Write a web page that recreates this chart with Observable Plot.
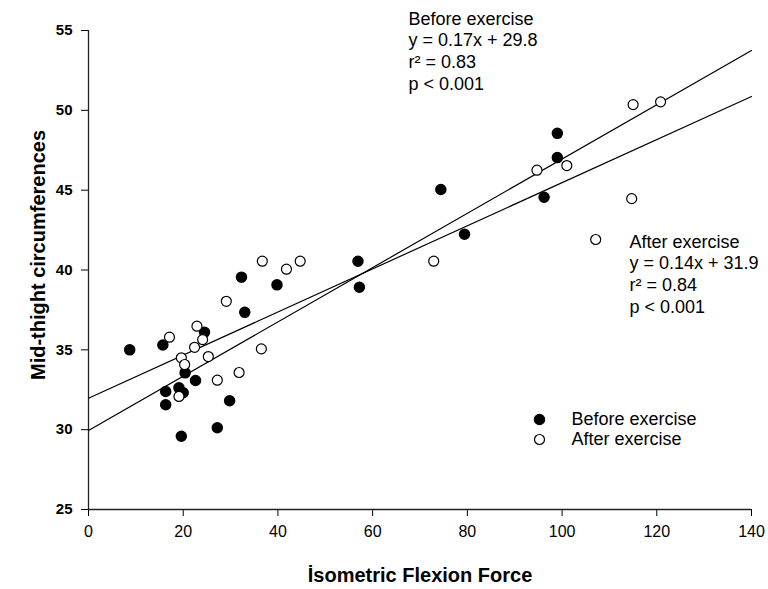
<!DOCTYPE html>
<html><head><meta charset="utf-8">
<script src="https://cdn.jsdelivr.net/npm/d3@7"></script>
<script src="https://cdn.jsdelivr.net/npm/@observablehq/plot@0.6"></script>
<style>
body{margin:0;background:#fff;font-family:"Liberation Sans",Arial,sans-serif;}
g[aria-label="y-axis tick label"]{font-weight:bold;}
</style></head><body><div id="chart"></div>
<script>
// Before exercise (filled)
const beforeX = [8.7, 15.7, 24.5, 33.0, 20.4, 22.6, 16.3, 19.1, 20.0, 16.3, 29.8, 27.2, 19.6, 32.3, 39.8, 74.4, 79.4, 56.9, 57.2, 99.0, 99.0, 96.2];
const beforeY = [35.0, 35.3, 36.1, 37.35, 33.56, 33.08, 32.39, 32.62, 32.31, 31.56, 31.81, 30.12, 29.59, 39.55, 39.07, 45.04, 42.24, 40.55, 38.92, 48.56, 47.04, 44.56];
// After exercise (open)
const afterX = [29.1, 17.1, 22.9, 24.1, 22.4, 19.6, 20.3, 25.3, 36.5, 31.8, 27.2, 19.1, 36.7, 41.8, 44.7, 72.9, 115.0, 120.8, 94.7, 101.0, 114.7, 107.1];
const afterY = [38.04, 35.79, 36.48, 35.64, 35.16, 34.50, 34.08, 34.58, 35.06, 33.58, 33.10, 32.08, 40.55, 40.05, 40.55, 40.55, 50.36, 50.53, 46.25, 46.54, 44.47, 41.91];
// Regression lines (endpoints at x = 0 and x = 140)
const lineX = [0, 140];
const beforeLineY = [29.95, 53.75];
const afterLineY = [31.97, 50.87];
const xTicks = [0, 20, 40, 60, 80, 100, 120, 140];
const yTicks = [25, 30, 35, 40, 45, 50, 55];
const beforeNote = "Before exercise\ny = 0.17x + 29.8\nr² = 0.83\np < 0.001";
const afterNote = "After exercise\ny = 0.14x + 31.9\nr² = 0.84\np < 0.001";
const legendLabels = ["Before exercise", "After exercise"];
const xTitle = "İsometric Flexion Force";
const yTitle = "Mid-thight circumferences";

const before = beforeX.map((x, i) => ({x, y: beforeY[i]}));
const after = afterX.map((x, i) => ({x, y: afterY[i]}));
const beforeLine = lineX.map((x, i) => ({x, y: beforeLineY[i]}));
const afterLine = lineX.map((x, i) => ({x, y: afterLineY[i]}));

const font = "Liberation Sans, Arial, sans-serif";
const chart = Plot.plot({
  width: 768, height: 589,
  marginLeft: 88, marginRight: 17, marginTop: 30, marginBottom: 80,
  style: {fontFamily: font, background: "#fff", color: "#000"},
  x: {domain: [0, 140]},
  y: {domain: [25, 55]},
  marks: [
    Plot.axisX({ticks: xTicks, tickSize: 7, tickPadding: 9, fontSize: 16, label: null, tickFormat: d => String(d)}),
    Plot.axisY({ticks: yTicks, tickSize: 7, tickPadding: 9, fontSize: 15, label: null, tickFormat: d => String(d)}),
    Plot.ruleX([0], {stroke: "#222", strokeWidth: 1.3}),
    Plot.ruleY([25], {stroke: "#222", strokeWidth: 1.3}),
    Plot.line(beforeLine, {x: "x", y: "y", stroke: "black", strokeWidth: 1.2}),
    Plot.line(afterLine, {x: "x", y: "y", stroke: "black", strokeWidth: 1.2}),
    Plot.dot(before, {x: "x", y: "y", r: 5, fill: "black", stroke: "black"}),
    Plot.dot(after, {x: "x", y: "y", r: 5, fill: "white", stroke: "black", strokeWidth: 1.2}),
    // legend
    Plot.dot([legendLabels[0]], {frameAnchor: "top-left", dx: 451, dy: 389, r: 5, fill: "black", stroke: "black"}),
    Plot.dot([legendLabels[1]], {frameAnchor: "top-left", dx: 451, dy: 409, r: 5, fill: "white", stroke: "black", strokeWidth: 1.2}),
    Plot.text([legendLabels[0]], {text: d => d, frameAnchor: "top-left", dx: 483, dy: 389, textAnchor: "start", lineAnchor: "middle", fontSize: 18}),
    Plot.text([legendLabels[1]], {text: d => d, frameAnchor: "top-left", dx: 483, dy: 409, textAnchor: "start", lineAnchor: "middle", fontSize: 18}),
    // annotations
    Plot.text([beforeNote], {text: d => d, frameAnchor: "top-left", dx: 320, dy: -21, textAnchor: "start", lineAnchor: "top", fontSize: 18, lineHeight: 1.2}),
    Plot.text([afterNote], {text: d => d, frameAnchor: "top-left", dx: 541, dy: 202, textAnchor: "start", lineAnchor: "top", fontSize: 18, lineHeight: 1.2}),
    // axis titles
    Plot.text([xTitle], {text: d => d, frameAnchor: "bottom", dy: 66, textAnchor: "middle", fontSize: 20, fontWeight: "bold", lineAnchor: "middle"}),
    Plot.text([yTitle], {text: d => d, frameAnchor: "left", dx: -50, dy: -15, textAnchor: "middle", rotate: -90, fontSize: 20, fontWeight: "bold", lineAnchor: "middle"})
  ]
});
document.getElementById("chart").appendChild(chart);
</script></body></html>
